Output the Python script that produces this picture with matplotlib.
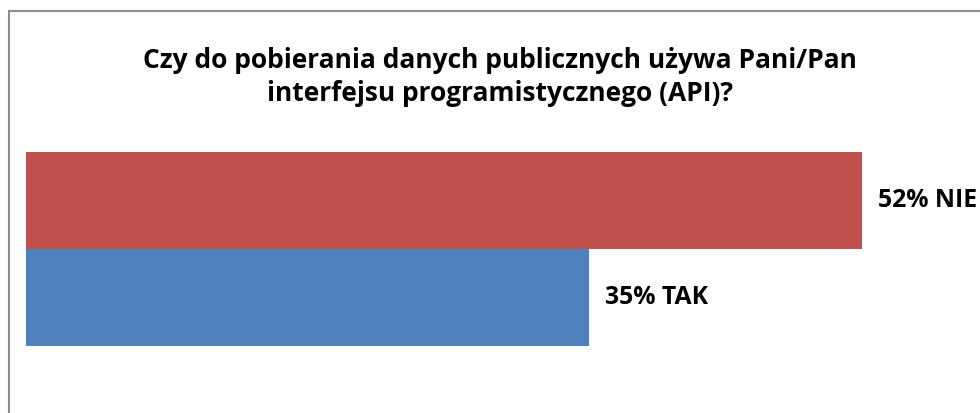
import matplotlib
matplotlib.use("Agg")
import matplotlib.pyplot as plt
import matplotlib.patches as patches

# survey answers, bottom to top
answers = ["TAK", "NIE"]
shares = [35, 52]
colors = ["#4F81BD", "#C0504D"]
title = "Czy do pobierania danych publicznych używa Pani/Pan\ninterfejsu programistycznego (API)?"

W, H = 980, 413
fig = plt.figure(figsize=(W / 100, H / 100), dpi=100)

# outer chart frame (cropped on the right and bottom)
frame = patches.Rectangle((8.5 / W, -0.1), 1.2, 1 - 11 / H + 0.1,
                          transform=fig.transFigure, fill=False,
                          ec="#8c8c8c", lw=1.5)
fig.patches.append(frame)

px_per_pct = (862 - 26) / 52
ax = fig.add_axes([26 / W, (H - 345.5) / H, (W - 26) / W, 193.5 / H])
ax.set_xlim(0, (W - 26) / px_per_pct)
ax.set_ylim(-0.5, 1.5)

ypos = list(range(len(answers)))
ax.barh(ypos, shares, height=1.0, color=colors)

for y, v, name in zip(ypos, shares, answers):
    ax.annotate(f"{v}% {name}", xy=(v, y), xytext=(11.5, 0),
                textcoords="offset points", va="center", ha="left",
                fontsize=17.8, fontweight="bold", family="Open Sans")

ax.axis("off")

fig.text(500 / W, 1 - 77 / H, title, ha="center", va="center",
         fontsize=19, fontweight="bold", family="Open Sans", linespacing=1.25)

fig.savefig("out.png", dpi=100)
